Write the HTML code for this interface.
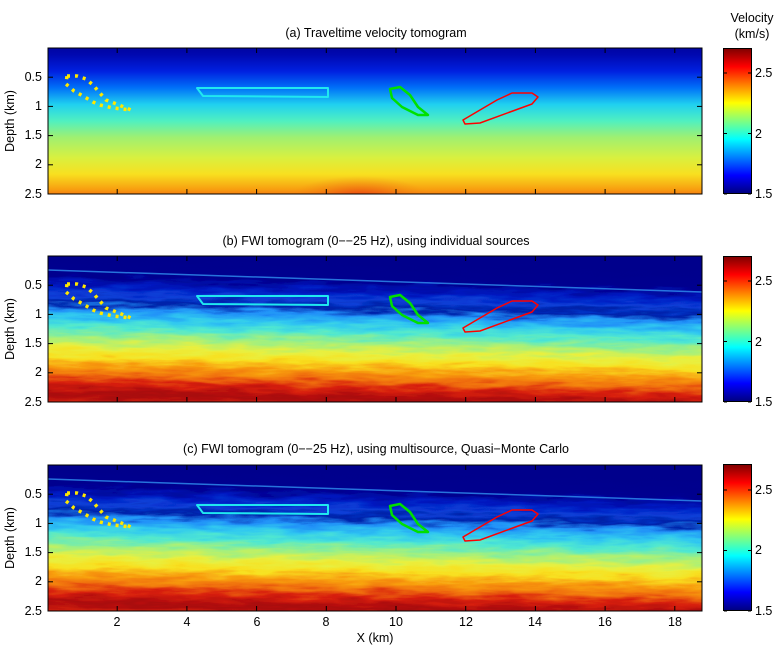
<!DOCTYPE html>
<html><head><meta charset="utf-8"><style>
html,body{margin:0;padding:0;background:#fff}
svg{display:block;font-family:"Liberation Sans",sans-serif}
</style></head><body>
<svg width="779" height="650" viewBox="0 0 779 650" xmlns="http://www.w3.org/2000/svg">
<defs>
<linearGradient id="ga" x1="0" y1="0" x2="0" y2="1">
<stop offset="0" stop-color="#000090"/><stop offset="0.1" stop-color="#0008b0"/>
<stop offset="0.2" stop-color="#0020e0"/><stop offset="0.3" stop-color="#0070f8"/>
<stop offset="0.4" stop-color="#20d0f0"/><stop offset="0.5" stop-color="#50f0c0"/>
<stop offset="0.6" stop-color="#a0f070"/><stop offset="0.72" stop-color="#d8f040"/>
<stop offset="0.82" stop-color="#f8e020"/><stop offset="0.91" stop-color="#f8a010"/>
<stop offset="1" stop-color="#f04010"/></linearGradient>
<radialGradient id="bulge" cx="0.5" cy="0.5" r="0.5">
<stop offset="0" stop-color="#e83010" stop-opacity="0.9"/><stop offset="1" stop-color="#f08010" stop-opacity="0"/></radialGradient>
<linearGradient id="gb" gradientUnits="userSpaceOnUse" x1="0" y1="0" x2="-3" y2="147">
<stop offset="0" stop-color="#00008c"/><stop offset="0.13" stop-color="#00008f"/>
<stop offset="0.2" stop-color="#0018c0"/><stop offset="0.26" stop-color="#0a40d8"/>
<stop offset="0.31" stop-color="#0020a8"/><stop offset="0.36" stop-color="#2090f8"/>
<stop offset="0.42" stop-color="#30c8f0"/><stop offset="0.48" stop-color="#50e8d0"/>
<stop offset="0.55" stop-color="#a0f080"/><stop offset="0.62" stop-color="#e8f040"/>
<stop offset="0.68" stop-color="#f8e020"/><stop offset="0.74" stop-color="#f8a010"/>
<stop offset="0.8" stop-color="#f07010"/><stop offset="0.86" stop-color="#d82010"/>
<stop offset="0.93" stop-color="#a80808"/><stop offset="1" stop-color="#d02010"/></linearGradient>
<linearGradient id="jet" x1="0" y1="1" x2="0" y2="0">
<stop offset="0" stop-color="#00007f"/><stop offset="0.125" stop-color="#0000ff"/>
<stop offset="0.375" stop-color="#00ffff"/><stop offset="0.625" stop-color="#ffff00"/>
<stop offset="0.875" stop-color="#ff0000"/><stop offset="1" stop-color="#7f0000"/></linearGradient>
<filter id="tex" x="0" y="0" width="1" height="1">
<feTurbulence type="fractalNoise" baseFrequency="0.025 0.18" numOctaves="3" seed="4" result="n"/>
<feDisplacementMap in="SourceGraphic" in2="n" scale="16" xChannelSelector="R" yChannelSelector="G"/>
</filter>
<filter id="tex2" x="0" y="0" width="1" height="1">
<feTurbulence type="fractalNoise" baseFrequency="0.025 0.18" numOctaves="3" seed="9" result="n"/>
<feDisplacementMap in="SourceGraphic" in2="n" scale="16" xChannelSelector="R" yChannelSelector="G"/>
</filter>
<clipPath id="cp"><rect x="0" y="0" width="654" height="146"/></clipPath>
<g id="outl" fill="none" stroke-linejoin="round" transform="translate(-48,0)">
<polygon points="67,28 77,28 86,31 93,37 99,44 106,52 114,55 131,62 113,60 100,57 93,54 83,48 74,43 66,36" stroke="#ffe800" stroke-width="3.5" stroke-dasharray="3,5"/>
<polygon points="197,40 328,40 328,49 203,48" stroke="#20e8f0" stroke-width="2"/>
<polygon points="390,41 400,39 410,47 418,59 428,67 418,67 402,59 392,50" stroke="#00e000" stroke-width="2.5"/>
<polygon points="463,72 497,52 512,45 532,45 538,49 532,56 510,64 480,75 465,76" stroke="#ff0000" stroke-width="1.5"/>
</g>
</defs>

<g transform="translate(48,48)">
<g clip-path="url(#cp)">
<rect x="-10" y="-10" width="674" height="166" fill="url(#ga)"/>
<ellipse cx="312" cy="150" rx="70" ry="22" fill="url(#bulge)"/>
</g>
<use href="#outl"/>
</g>
<g transform="translate(48,256)">
<g clip-path="url(#cp)">
<rect x="-10" y="-10" width="674" height="166" fill="url(#gb)" filter="url(#tex)"/>
<line x1="0" y1="14" x2="654" y2="36" stroke="#3090f0" stroke-width="1.5" opacity="0.8"/>
</g>
<use href="#outl"/>
</g>
<g transform="translate(48,465)">
<g clip-path="url(#cp)">
<rect x="-10" y="-10" width="674" height="166" fill="url(#gb)" filter="url(#tex2)"/>
<line x1="0" y1="14" x2="654" y2="36" stroke="#3090f0" stroke-width="1.5" opacity="0.8"/>
</g>
<use href="#outl"/>
</g>

<g fill="none" stroke="#000" stroke-width="1">
<rect x="48" y="48" width="654" height="146"/>
<rect x="48" y="256" width="654" height="146"/>
<rect x="48" y="465" width="654" height="146"/>
<rect x="723.5" y="48.5" width="28" height="145" fill="url(#jet)"/>
<rect x="723.5" y="256.5" width="28" height="145" fill="url(#jet)"/>
<rect x="723.5" y="464.5" width="28" height="146" fill="url(#jet)"/>
</g>

<g id="ticks" stroke="#000" stroke-width="1">
</g>
<script>
(function(){
var ns="http://www.w3.org/2000/svg",g=document.getElementById("ticks");
function L(x1,y1,x2,y2){var l=document.createElementNS(ns,"line");l.setAttribute("x1",x1);l.setAttribute("y1",y1);l.setAttribute("x2",x2);l.setAttribute("y2",y2);g.appendChild(l);}
[48,256,465].forEach(function(t){
 var b=t+146;
 for(var k=2;k<=18;k+=2){var x=47.5+k*34.85;L(x,t,x,t+5);L(x,b,x,b-5);}
 for(var d=0.5;d<=2.5;d+=0.5){var y=t+d*58.4;L(48,y,53,y);L(702,y,697,y);}
 [1.5,2,2.5].forEach(function(v){var y=t+146-(v-1.5)*121;L(724,y,727,y);L(751,y,748,y);});
});
})();
</script>

<g font-size="12.5" fill="#000">
<text x="376" y="37" text-anchor="middle">(a) Traveltime velocity tomogram</text>
<text x="376" y="245" text-anchor="middle">(b) FWI tomogram (0−−25 Hz), using individual sources</text>
<text x="376" y="453" text-anchor="middle">(c) FWI tomogram (0−−25 Hz), using multisource, Quasi−Monte Carlo</text>
<text x="752" y="22" text-anchor="middle">Velocity</text>
<text x="752" y="38" text-anchor="middle">(km/s)</text>
<text x="375" y="642" text-anchor="middle">X (km)</text>
<g text-anchor="end">
<text x="42" y="81">0.5</text><text x="42" y="110">1</text><text x="42" y="139">1.5</text><text x="42" y="168">2</text><text x="42" y="198">2.5</text>
<text x="42" y="289">0.5</text><text x="42" y="318">1</text><text x="42" y="347">1.5</text><text x="42" y="376">2</text><text x="42" y="406">2.5</text>
<text x="42" y="498">0.5</text><text x="42" y="527">1</text><text x="42" y="556">1.5</text><text x="42" y="585">2</text><text x="42" y="615">2.5</text>
</g>
<text transform="translate(14,121) rotate(-90)" text-anchor="middle">Depth (km)</text>
<text transform="translate(14,329) rotate(-90)" text-anchor="middle">Depth (km)</text>
<text transform="translate(14,538) rotate(-90)" text-anchor="middle">Depth (km)</text>
<g>
<text x="755" y="77">2.5</text><text x="755" y="138">2</text><text x="755" y="198">1.5</text>
<text x="755" y="285">2.5</text><text x="755" y="346">2</text><text x="755" y="406">1.5</text>
<text x="755" y="494">2.5</text><text x="755" y="554">2</text><text x="755" y="615">1.5</text>
</g>
<g text-anchor="middle">
<text x="117" y="626">2</text><text x="187" y="626">4</text><text x="257" y="626">6</text><text x="326" y="626">8</text><text x="396" y="626">10</text><text x="466" y="626">12</text><text x="535" y="626">14</text><text x="605" y="626">16</text><text x="675" y="626">18</text>
</g>
</g>
</svg>
</body></html>
